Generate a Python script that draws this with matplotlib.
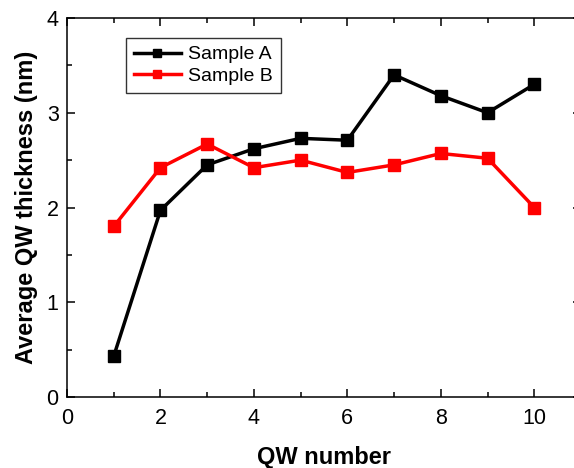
import numpy as np
import matplotlib.pyplot as plt
from matplotlib.ticker import MultipleLocator

qw = [1, 2, 3, 4, 5, 6, 7, 8, 9, 10]
sample_a = [0.43, 1.97, 2.45, 2.62, 2.73, 2.71, 3.40, 3.18, 3.00, 3.30]
sample_b = [1.80, 2.42, 2.67, 2.42, 2.50, 2.37, 2.45, 2.57, 2.52, 2.00]

plt.rcParams['font.family'] = ['Liberation Sans', 'DejaVu Sans']

fig = plt.figure(figsize=(5.74, 4.68), dpi=100)
# right spine sits just past the figure edge, as in the original
ax = fig.add_axes([67 / 574, 71 / 468, 514 / 574, 379 / 468])

ax.plot(qw, sample_a, color='black', lw=2.5, marker='s', ms=8, label='Sample A')
ax.plot(qw, sample_b, color='red', lw=2.5, marker='s', ms=8, label='Sample B')

ax.set_xlim(0, 11)
ax.set_ylim(0, 4)
ax.xaxis.set_major_locator(MultipleLocator(2))
ax.xaxis.set_minor_locator(MultipleLocator(1))
ax.yaxis.set_major_locator(MultipleLocator(1))
ax.yaxis.set_minor_locator(MultipleLocator(0.5))
ax.tick_params(which='both', direction='in', top=True, right=True, width=1.1, labelsize=15.5)
ax.tick_params(which='major', length=6)
ax.tick_params(which='minor', length=3.5)
ax.tick_params(axis='x', which='major', pad=8)
ax.tick_params(axis='y', which='major', pad=6)
for s in ax.spines.values():
    s.set_linewidth(1.1)

ax.set_xlabel('QW number', fontsize=17, fontweight='bold', labelpad=12)
ax.set_ylabel('Average QW thickness (nm)', fontsize=17, fontweight='bold', labelpad=6)

leg = ax.legend(loc='upper left', bbox_to_anchor=(0.115, 0.947), borderaxespad=0,
                fontsize=14, frameon=True, fancybox=False, edgecolor='black',
                handlelength=2.4, borderpad=0.4, labelspacing=0.2, handletextpad=0.4,
                markerscale=0.75)
leg.get_frame().set_linewidth(1.0)

fig.savefig('out.png', dpi=100)
